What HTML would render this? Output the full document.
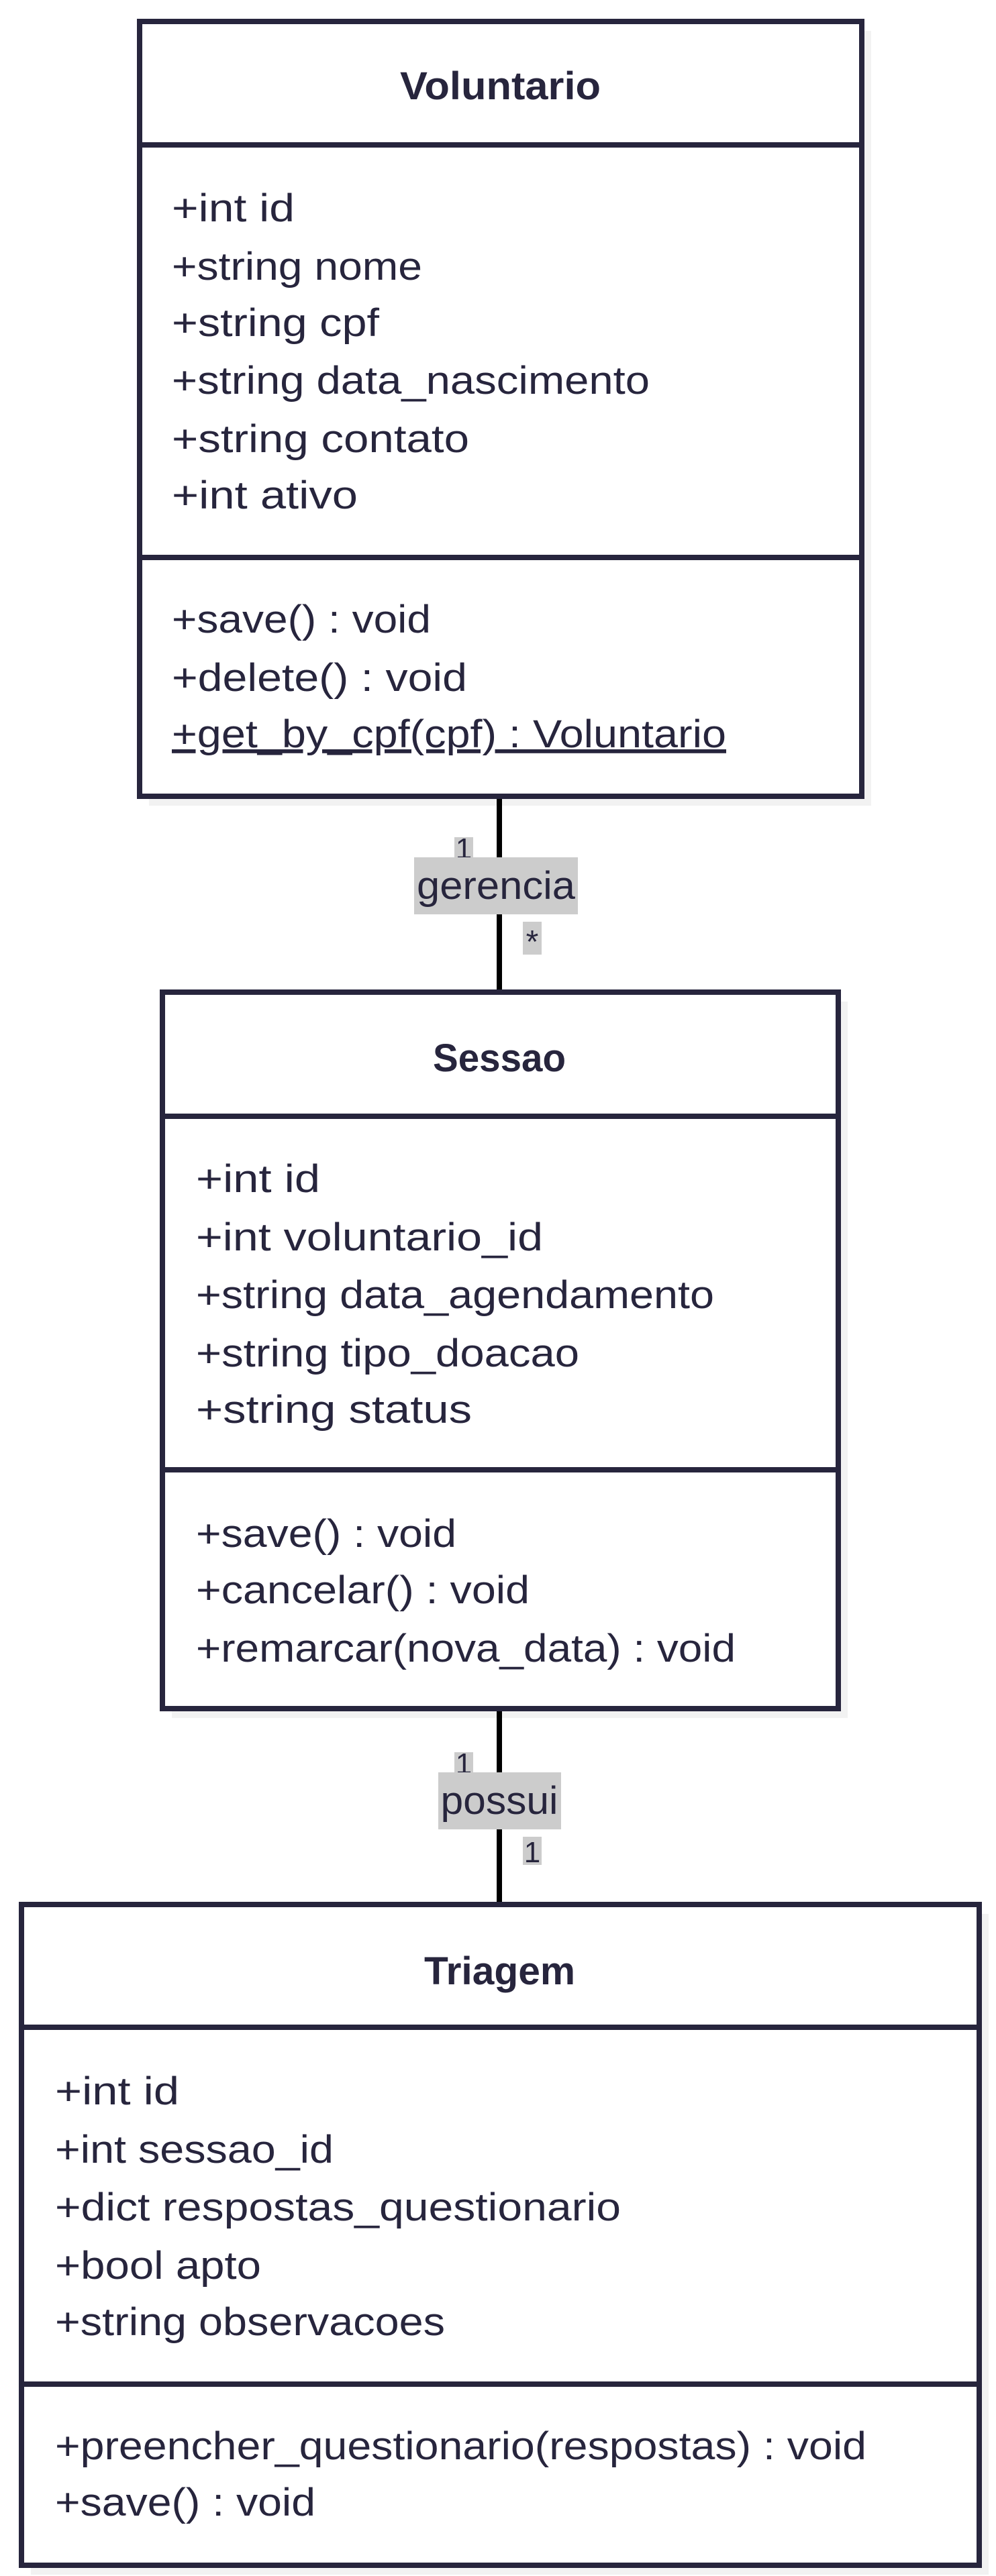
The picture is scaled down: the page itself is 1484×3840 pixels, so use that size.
<!DOCTYPE html>
<html><head><meta charset="utf-8"><style>
html,body{margin:0;padding:0;background:#fff;}
svg{display:block;}
text{font-family:"Liberation Sans",sans-serif;fill:#27253d;}
</style></head><body>
<svg width="1484" height="3840" viewBox="0 0 1484 3840" xmlns="http://www.w3.org/2000/svg">
<rect x="222" y="46" width="1076" height="1155" fill="#f2f2f2"/>
<rect x="256" y="1493" width="1007" height="1068" fill="#f2f2f2"/>
<rect x="46" y="2853" width="1427" height="985" fill="#f2f2f2"/>
<line x1="744" y1="1187" x2="744" y2="1479" stroke="#000" stroke-width="8"/>
<line x1="744" y1="2547" x2="744" y2="2839" stroke="#000" stroke-width="8"/>
<g fill="#fff" stroke="#27253d" stroke-width="8">
<rect x="208" y="32" width="1076" height="1155"/>
<line x1="208" y1="216" x2="1284" y2="216"/>
<line x1="208" y1="831" x2="1284" y2="831"/>
<rect x="242" y="1479" width="1007" height="1068"/>
<line x1="242" y1="1664" x2="1249" y2="1664"/>
<line x1="242" y1="2191" x2="1249" y2="2191"/>
<rect x="32" y="2839" width="1427" height="985"/>
<line x1="32" y1="3022" x2="1459" y2="3022"/>
<line x1="32" y1="3554" x2="1459" y2="3554"/>
</g>
<g font-size="58">
<text x="596" y="148" font-weight="bold" textLength="299" lengthAdjust="spacingAndGlyphs">Voluntario</text>
<text x="256" y="330" textLength="183" lengthAdjust="spacingAndGlyphs">+int id</text>
<text x="256" y="417" textLength="373" lengthAdjust="spacingAndGlyphs">+string nome</text>
<text x="256" y="501" textLength="309" lengthAdjust="spacingAndGlyphs">+string cpf</text>
<text x="256" y="587" textLength="712" lengthAdjust="spacingAndGlyphs">+string data_nascimento</text>
<text x="256" y="674" textLength="443" lengthAdjust="spacingAndGlyphs">+string contato</text>
<text x="256" y="758" textLength="277" lengthAdjust="spacingAndGlyphs">+int ativo</text>
<text x="256" y="943" textLength="386" lengthAdjust="spacingAndGlyphs">+save() : void</text>
<text x="256" y="1030" textLength="440" lengthAdjust="spacingAndGlyphs">+delete() : void</text>
<text x="256" y="1114" textLength="826" lengthAdjust="spacingAndGlyphs" text-decoration="underline">+get_by_cpf(cpf) : Voluntario</text>

<text x="645" y="1597" font-weight="bold" textLength="198" lengthAdjust="spacingAndGlyphs">Sessao</text>
<text x="292" y="1777" textLength="185" lengthAdjust="spacingAndGlyphs">+int id</text>
<text x="292" y="1864" textLength="517" lengthAdjust="spacingAndGlyphs">+int voluntario_id</text>
<text x="292" y="1950" textLength="772" lengthAdjust="spacingAndGlyphs">+string data_agendamento</text>
<text x="292" y="2037" textLength="571" lengthAdjust="spacingAndGlyphs">+string tipo_doacao</text>
<text x="292" y="2121" textLength="411" lengthAdjust="spacingAndGlyphs">+string status</text>
<text x="292" y="2306" textLength="388" lengthAdjust="spacingAndGlyphs">+save() : void</text>
<text x="292" y="2390" textLength="497" lengthAdjust="spacingAndGlyphs">+cancelar() : void</text>
<text x="292" y="2477" textLength="804" lengthAdjust="spacingAndGlyphs">+remarcar(nova_data) : void</text>

<text x="632" y="2958" font-weight="bold" textLength="225" lengthAdjust="spacingAndGlyphs">Triagem</text>
<text x="82" y="3137" textLength="185" lengthAdjust="spacingAndGlyphs">+int id</text>
<text x="82" y="3224" textLength="415" lengthAdjust="spacingAndGlyphs">+int sessao_id</text>
<text x="82" y="3310" textLength="843" lengthAdjust="spacingAndGlyphs">+dict respostas_questionario</text>
<text x="82" y="3397" textLength="307" lengthAdjust="spacingAndGlyphs">+bool apto</text>
<text x="82" y="3481" textLength="581" lengthAdjust="spacingAndGlyphs">+string observacoes</text>
<text x="82" y="3666" textLength="1209" lengthAdjust="spacingAndGlyphs">+preencher_questionario(respostas) : void</text>
<text x="82" y="3750" textLength="388" lengthAdjust="spacingAndGlyphs">+save() : void</text>
</g>
<rect x="677" y="1248" width="28" height="32" fill="#ccc"/>
<text x="691" y="1280" font-size="44" text-anchor="middle">1</text>
<rect x="617" y="1278" width="244" height="85" fill="#ccc"/>
<text x="739" y="1340" font-size="58" text-anchor="middle" textLength="236" lengthAdjust="spacingAndGlyphs">gerencia</text>
<rect x="779" y="1374" width="28" height="49" fill="#ccc"/>
<text x="793" y="1420" font-size="48" text-anchor="middle">*</text>

<rect x="677" y="2612" width="28" height="32" fill="#ccc"/>
<text x="691" y="2644" font-size="44" text-anchor="middle">1</text>
<rect x="653" y="2642" width="183" height="85" fill="#ccc"/>
<text x="744" y="2704" font-size="58" text-anchor="middle" textLength="175" lengthAdjust="spacingAndGlyphs">possui</text>
<rect x="779" y="2738" width="28" height="42" fill="#ccc"/>
<text x="793" y="2776" font-size="44" text-anchor="middle">1</text>
</svg>
</body></html>
